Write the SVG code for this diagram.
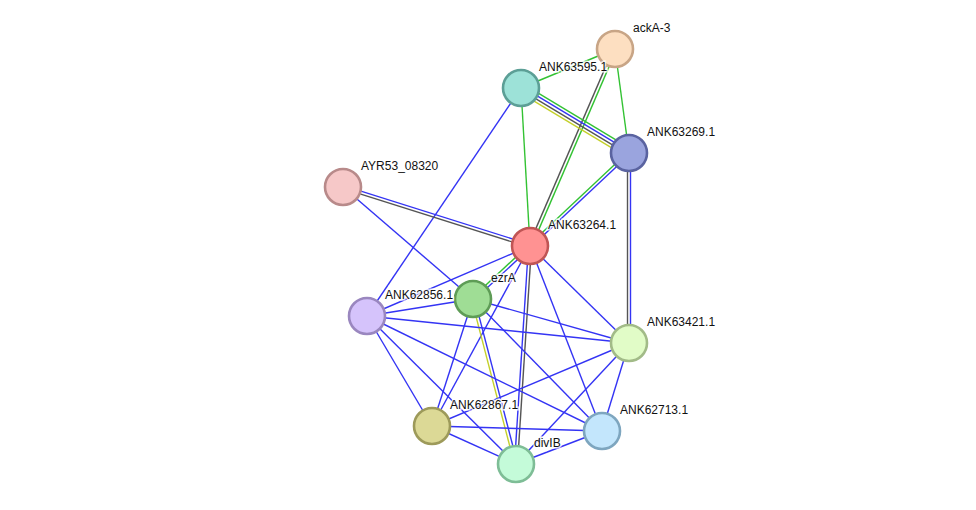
<svg xmlns="http://www.w3.org/2000/svg" width="976" height="510" viewBox="0 0 976 510">
<style>
.e{stroke-width:1.4;fill:none}
.b{stroke:#3434f4}
.g{stroke:#33c233}
.k{stroke:#555555}
.y{stroke:#c4d02a}
.n circle{stroke-width:2.6}
.n text{font-family:"Liberation Sans",Arial,sans-serif;font-size:12px;fill:#111;stroke:#fff;stroke-width:3px;stroke-opacity:0.8;paint-order:stroke}
</style>
<rect width="976" height="510" fill="#fff"/>
<g id="edges">
<!-- ackA-3 -->
<line class="e g" x1="615" y1="49" x2="521" y2="88"/>
<line class="e g" x1="615" y1="49" x2="629" y2="153"/>
<line class="e g" x1="616.4" y1="49.6" x2="531.4" y2="246.6"/>
<line class="e k" x1="613.6" y1="48.4" x2="528.6" y2="245.4"/>
<!-- ANK63595.1 - ANK63269.1 -->
<line class="e g" x1="523.3" y1="84.1" x2="631.3" y2="149.1"/>
<line class="e b" x1="521.8" y1="86.7" x2="629.8" y2="151.7"/>
<line class="e k" x1="520.2" y1="89.3" x2="628.2" y2="154.3"/>
<line class="e y" x1="518.7" y1="91.9" x2="626.7" y2="156.9"/>
<line class="e g" x1="521" y1="88" x2="530" y2="246"/>
<line class="e b" x1="521" y1="88" x2="367" y2="316"/>
<!-- ANK63264.1 - ANK63269.1 -->
<line class="e g" x1="529" y1="244.9" x2="628" y2="151.9"/>
<line class="e b" x1="531" y1="247.1" x2="630" y2="154.1"/>
<!-- ANK63269.1 - ANK63421.1 -->
<line class="e k" x1="627.5" y1="153" x2="627.5" y2="343"/>
<line class="e b" x1="630.5" y1="153" x2="630.5" y2="343"/>
<!-- AYR53 -->
<line class="e b" x1="343.45" y1="185.57" x2="530.45" y2="244.57"/>
<line class="e k" x1="342.55" y1="188.43" x2="529.55" y2="247.43"/>
<line class="e b" x1="343" y1="187" x2="473" y2="299"/>
<!-- ANK63264.1 others -->
<line class="e g" x1="529" y1="244.9" x2="472" y2="297.9"/>
<line class="e b" x1="531" y1="247.1" x2="474" y2="300.1"/>
<line class="e b" x1="530" y1="246" x2="367" y2="316"/>
<line class="e b" x1="528.5" y1="245.9" x2="514.5" y2="463.9"/>
<line class="e k" x1="531.5" y1="246.1" x2="517.5" y2="464.1"/>
<line class="e b" x1="530" y1="246" x2="432" y2="426"/>
<line class="e b" x1="530" y1="246" x2="629" y2="343"/>
<line class="e b" x1="530" y1="246" x2="602" y2="431"/>
<!-- ezrA -->
<line class="e b" x1="473" y1="299" x2="367" y2="316"/>
<line class="e b" x1="473" y1="299" x2="629" y2="343"/>
<line class="e b" x1="473" y1="299" x2="432" y2="426"/>
<line class="e b" x1="474.45" y1="298.62" x2="517.45" y2="463.62"/>
<line class="e y" x1="471.55" y1="299.38" x2="514.55" y2="464.38"/>
<line class="e b" x1="473" y1="299" x2="602" y2="431"/>
<!-- ANK62856.1 -->
<line class="e b" x1="367" y1="316" x2="629" y2="343"/>
<line class="e b" x1="367" y1="316" x2="432" y2="426"/>
<line class="e b" x1="367" y1="316" x2="516" y2="464"/>
<line class="e b" x1="367" y1="316" x2="602" y2="431"/>
<!-- ANK63421.1 -->
<line class="e b" x1="629" y1="343" x2="432" y2="426"/>
<line class="e b" x1="629" y1="343" x2="516" y2="464"/>
<line class="e b" x1="629" y1="343" x2="602" y2="431"/>
<!-- lower -->
<line class="e b" x1="432" y1="426" x2="602" y2="431"/>
<line class="e b" x1="432" y1="426" x2="516" y2="464"/>
<line class="e b" x1="602" y1="431" x2="516" y2="464"/>
</g>
<g id="ackA-3" class="n"><circle cx="615" cy="49" r="18" fill="#fddfc1" stroke="#c8a586"/><text x="633" y="32">ackA-3</text></g>
<g id="ANK63595.1" class="n"><circle cx="521" cy="88" r="18" fill="#9de2d8" stroke="#5c9f96"/><text x="539" y="71">ANK63595.1</text></g>
<g id="ANK63269.1" class="n"><circle cx="629" cy="153" r="18" fill="#9aa4de" stroke="#5a63a0"/><text x="647" y="136">ANK63269.1</text></g>
<g id="AYR53_08320" class="n"><circle cx="343" cy="187" r="18" fill="#f6c8c8" stroke="#b88a8a"/><text x="361" y="170">AYR53_08320</text></g>
<g id="ANK63264.1" class="n"><circle cx="530" cy="246" r="18" fill="#ff9292" stroke="#c05555"/><text x="548" y="229">ANK63264.1</text></g>
<g id="ezrA" class="n"><circle cx="473" cy="299" r="18" fill="#9fdd95" stroke="#5e9c56"/><text x="491" y="282">ezrA</text></g>
<g id="ANK62856.1" class="n"><circle cx="367" cy="316" r="18" fill="#d5c3fb" stroke="#9a87bf"/><text x="385" y="299">ANK62856.1</text></g>
<g id="ANK63421.1" class="n"><circle cx="629" cy="343" r="18" fill="#e1fcc7" stroke="#a2bb88"/><text x="647" y="326">ANK63421.1</text></g>
<g id="ANK62867.1" class="n"><circle cx="432" cy="426" r="18" fill="#dcd996" stroke="#9d9a5a"/><text x="450" y="409">ANK62867.1</text></g>
<g id="ANK62713.1" class="n"><circle cx="602" cy="431" r="18" fill="#c3e6fc" stroke="#7ea6bf"/><text x="620" y="414">ANK62713.1</text></g>
<g id="divIB" class="n"><circle cx="516" cy="464" r="18" fill="#c4fbd9" stroke="#7ebd96"/><text x="534" y="447">divIB</text></g>
</svg>
